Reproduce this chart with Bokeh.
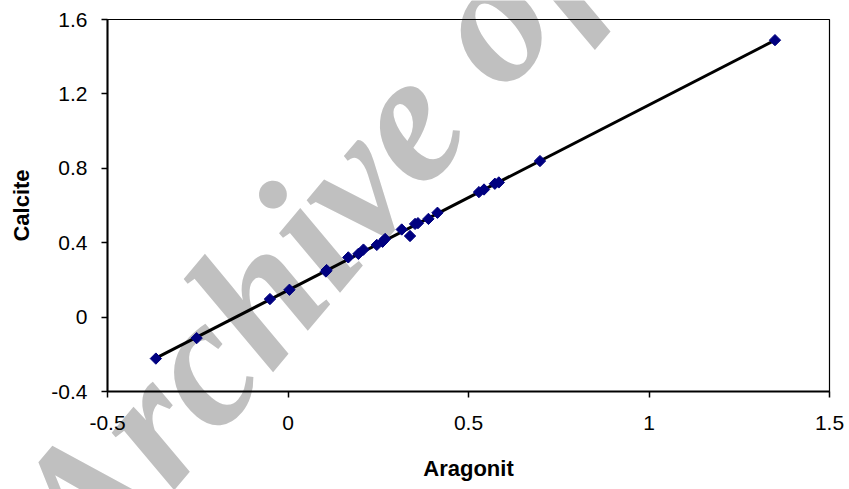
import numpy as np
from bokeh.plotting import figure
from bokeh.models import ColumnDataSource, FixedTicker, Label, Range1d
from bokeh.embed import file_html
from bokeh.resources import INLINE

# ---- data ----
aragonit = [-0.366, -0.253, -0.050, 0.004, 0.105, 0.107, 0.167, 0.195, 0.209,
            0.246, 0.262, 0.269, 0.315, 0.338, 0.352, 0.360, 0.389, 0.414,
            0.529, 0.543, 0.573, 0.584, 0.698, 1.349]
calcite = [-0.223, -0.113, 0.097, 0.147, 0.245, 0.253, 0.321, 0.340, 0.363,
           0.388, 0.405, 0.420, 0.471, 0.436, 0.501, 0.505, 0.528, 0.561,
           0.672, 0.686, 0.717, 0.724, 0.839, 1.489]

x_ticks = [-0.5, 0, 0.5, 1, 1.5]
x_tick_labels = ["-0.5", "0", "0.5", "1", "1.5"]
y_ticks = [-0.4, 0, 0.4, 0.8, 1.2, 1.6]
y_tick_labels = ["-0.4", "0", "0.4", "0.8", "1.2", "1.6"]

x_title = "Aragonit"
y_title = "Calcite"
watermark = "Archive of SID"

# linear trend line computed from the data
slope, intercept = np.polyfit(aragonit, calcite, 1)
trend_x = [min(aragonit), max(aragonit)]
trend_y = [slope * v + intercept for v in trend_x]

W, H = 849, 489
FONT = "Liberation Sans"

# ---- background figure: only the watermark, frame = whole canvas (pixel coords) ----
bg = figure(width=W, height=H, output_backend="svg", toolbar_location=None,
            x_range=Range1d(0, W), y_range=Range1d(H, 0),
            x_axis_location=None, y_axis_location=None,
            min_border=0, min_border_left=0, min_border_right=0,
            min_border_top=0, min_border_bottom=0)
bg.xgrid.visible = False
bg.ygrid.visible = False
bg.outline_line_color = None
bg.background_fill_color = "white"
bg.border_fill_color = "white"
bg.add_layout(Label(x=44, y=547, text=watermark, angle=50, angle_units="deg",
                    text_font="'Liberation Serif', serif", text_font_style="bold italic",
                    text_font_size="185px", text_color="#c0c0c0",
                    text_align="left", text_baseline="alphabetic"))

# ---- main chart, transparent, laid over the background ----
p = figure(width=W, height=H, output_backend="svg", toolbar_location=None,
           x_range=Range1d(-0.5, 1.5), y_range=Range1d(-0.4, 1.6),
           min_border_left=107, min_border_right=20, min_border_top=19,
           min_border_bottom=98,
           styles={"position": "absolute", "left": "0px", "top": "0px"})
p.background_fill_color = None
p.border_fill_color = None
p.outline_line_color = "black"
p.outline_line_width = 1.2
p.xgrid.visible = False
p.ygrid.visible = False

p.line(trend_x, trend_y, line_color="black", line_width=3)
src = ColumnDataSource(dict(x=aragonit, y=calcite))
p.scatter("x", "y", source=src, marker="square", size=8, angle=np.pi / 4,
          fill_color="#000080", line_color="#000080", line_width=1)

for ax, ticks, labels in ((p.xaxis[0], x_ticks, x_tick_labels),
                          (p.yaxis[0], y_ticks, y_tick_labels)):
    ax.ticker = FixedTicker(ticks=ticks)
    ax.major_label_overrides = {t: l for t, l in zip(ticks, labels)}
    ax.minor_tick_line_color = None
    ax.major_tick_in = 0
    ax.major_tick_out = 6
    ax.major_tick_line_color = "black"
    ax.major_tick_line_width = 1.5
    ax.axis_line_color = "black"
    ax.axis_line_width = 2
    ax.major_label_text_font = FONT
    ax.major_label_text_font_size = "21px"
    ax.major_label_text_color = "black"
    ax.axis_label_text_font = FONT
    ax.axis_label_text_font_size = "22px"
    ax.axis_label_text_font_style = "bold"
    ax.axis_label_text_color = "black"

p.xaxis.axis_label = x_title
p.yaxis.axis_label = y_title
p.xaxis.major_label_standoff = 18
p.yaxis.major_label_standoff = 14
p.xaxis.axis_label_standoff = 23
p.yaxis.axis_label_standoff = 14

open("out.html", "w").write(file_html([bg, p], INLINE))
